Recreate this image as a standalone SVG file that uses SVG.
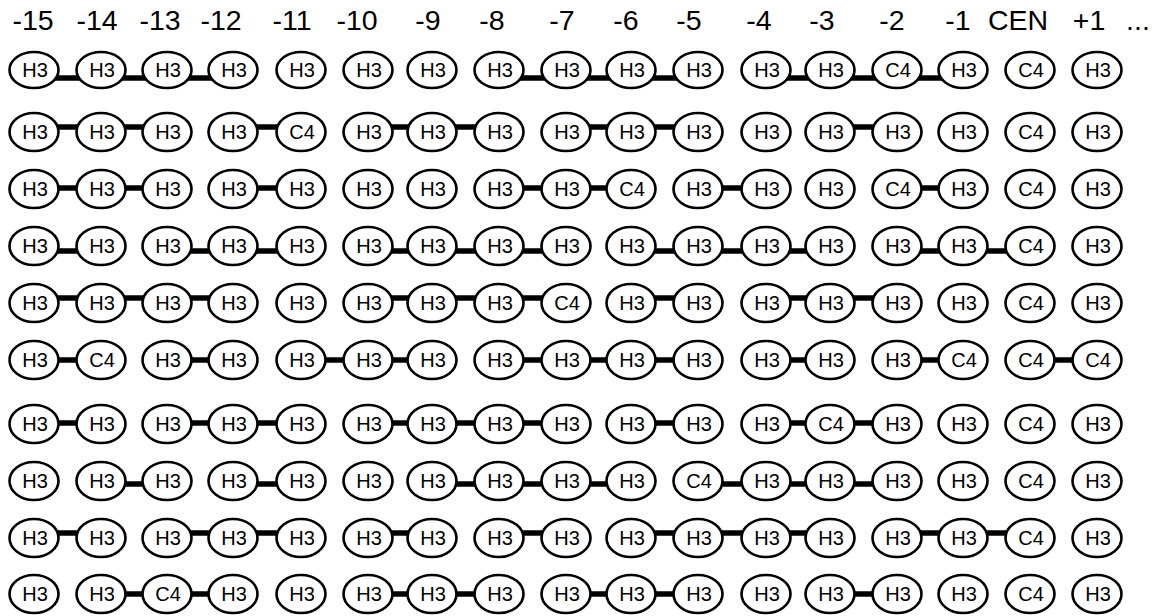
<svg xmlns="http://www.w3.org/2000/svg" width="1156" height="616" viewBox="0 0 1156 616">
<style>
text{font-family:"Liberation Sans",Arial,Helvetica,sans-serif;fill:#000;text-anchor:middle}
.hdr text{font-size:28.5px}
.n ellipse{fill:#fff;stroke:#000;stroke-width:2.6}
.n text{font-size:20px}
#links line{stroke:#000;stroke-width:5.5}
</style>
<rect width="1156" height="616" fill="#fff"/>
<g class="hdr" id="header">
<text x="33" y="30">-15</text><text x="97" y="30">-14</text><text x="160" y="30">-13</text><text x="221" y="30">-12</text><text x="292" y="30">-11</text><text x="357" y="30">-10</text><text x="428" y="30">-9</text><text x="492" y="30">-8</text><text x="562" y="30">-7</text><text x="626" y="30">-6</text><text x="689" y="30">-5</text><text x="759" y="30">-4</text><text x="822" y="30">-3</text><text x="892" y="30">-2</text><text x="958" y="30">-1</text><text x="1018" y="30">CEN</text><text x="1089" y="30">+1</text><text x="1138" y="30">...</text>
</g>
<g id="links">
<line x1="34" y1="78" x2="101" y2="78"/><line x1="101" y1="78" x2="167" y2="78"/><line x1="167" y1="78" x2="233" y2="78"/><line x1="499" y1="78" x2="566" y2="78"/><line x1="566" y1="78" x2="631" y2="78"/><line x1="631" y1="78" x2="698" y2="78"/><line x1="766" y1="78" x2="830" y2="78"/><line x1="830" y1="78" x2="897" y2="78"/><line x1="897" y1="78" x2="963" y2="78"/>
<line x1="34" y1="127" x2="101" y2="127"/><line x1="101" y1="127" x2="167" y2="127"/><line x1="233" y1="127" x2="301" y2="127"/><line x1="368" y1="127" x2="432" y2="127"/><line x1="432" y1="127" x2="499" y2="127"/><line x1="566" y1="127" x2="631" y2="127"/><line x1="631" y1="127" x2="698" y2="127"/><line x1="830" y1="127" x2="897" y2="127"/>
<line x1="34" y1="188" x2="101" y2="188"/><line x1="101" y1="188" x2="167" y2="188"/><line x1="233" y1="188" x2="301" y2="188"/><line x1="499" y1="188" x2="566" y2="188"/><line x1="566" y1="188" x2="631" y2="188"/><line x1="698" y1="188" x2="766" y2="188"/><line x1="897" y1="188" x2="963" y2="188"/>
<line x1="34" y1="251" x2="101" y2="251"/><line x1="167" y1="251" x2="233" y2="251"/><line x1="233" y1="251" x2="301" y2="251"/><line x1="368" y1="251" x2="432" y2="251"/><line x1="432" y1="251" x2="499" y2="251"/><line x1="499" y1="251" x2="566" y2="251"/><line x1="631" y1="251" x2="698" y2="251"/><line x1="698" y1="251" x2="766" y2="251"/><line x1="766" y1="251" x2="830" y2="251"/><line x1="897" y1="251" x2="963" y2="251"/><line x1="963" y1="251" x2="1030" y2="251"/>
<line x1="34" y1="298" x2="101" y2="298"/><line x1="101" y1="298" x2="167" y2="298"/><line x1="167" y1="298" x2="233" y2="298"/><line x1="368" y1="298" x2="432" y2="298"/><line x1="432" y1="298" x2="499" y2="298"/><line x1="499" y1="298" x2="566" y2="298"/><line x1="631" y1="298" x2="698" y2="298"/><line x1="766" y1="298" x2="830" y2="298"/><line x1="830" y1="298" x2="897" y2="298"/>
<line x1="34" y1="360" x2="101" y2="360"/><line x1="167" y1="360" x2="233" y2="360"/><line x1="301" y1="360" x2="368" y2="360"/><line x1="368" y1="360" x2="432" y2="360"/><line x1="499" y1="360" x2="566" y2="360"/><line x1="566" y1="360" x2="631" y2="360"/><line x1="631" y1="360" x2="698" y2="360"/><line x1="766" y1="360" x2="830" y2="360"/><line x1="897" y1="360" x2="963" y2="360"/><line x1="1030" y1="360" x2="1097" y2="360"/>
<line x1="34" y1="423" x2="101" y2="423"/><line x1="167" y1="423" x2="233" y2="423"/><line x1="233" y1="423" x2="301" y2="423"/><line x1="368" y1="423" x2="432" y2="423"/><line x1="432" y1="423" x2="499" y2="423"/><line x1="499" y1="423" x2="566" y2="423"/><line x1="631" y1="423" x2="698" y2="423"/><line x1="766" y1="423" x2="830" y2="423"/><line x1="830" y1="423" x2="897" y2="423"/>
<line x1="101" y1="484" x2="167" y2="484"/><line x1="233" y1="484" x2="301" y2="484"/><line x1="432" y1="484" x2="499" y2="484"/><line x1="499" y1="484" x2="566" y2="484"/><line x1="566" y1="484" x2="631" y2="484"/><line x1="698" y1="484" x2="766" y2="484"/><line x1="766" y1="484" x2="830" y2="484"/><line x1="830" y1="484" x2="897" y2="484"/>
<line x1="34" y1="533" x2="101" y2="533"/><line x1="167" y1="533" x2="233" y2="533"/><line x1="233" y1="533" x2="301" y2="533"/><line x1="368" y1="533" x2="432" y2="533"/><line x1="499" y1="533" x2="566" y2="533"/><line x1="631" y1="533" x2="698" y2="533"/><line x1="698" y1="533" x2="766" y2="533"/><line x1="766" y1="533" x2="830" y2="533"/><line x1="897" y1="533" x2="963" y2="533"/><line x1="963" y1="533" x2="1030" y2="533"/>
<line x1="101" y1="594" x2="167" y2="594"/><line x1="167" y1="594" x2="233" y2="594"/><line x1="368" y1="594" x2="432" y2="594"/><line x1="432" y1="594" x2="499" y2="594"/><line x1="566" y1="594" x2="631" y2="594"/><line x1="631" y1="594" x2="698" y2="594"/><line x1="830" y1="594" x2="897" y2="594"/>
</g>
<g id="nodes">
<g class="n" id="r1c1"><ellipse cx="34" cy="70" rx="24.5" ry="18"/><text x="35" y="77">H3</text></g>
<g class="n" id="r1c2"><ellipse cx="101" cy="70" rx="24.5" ry="18"/><text x="102" y="77">H3</text></g>
<g class="n" id="r1c3"><ellipse cx="167" cy="70" rx="24.5" ry="18"/><text x="168" y="77">H3</text></g>
<g class="n" id="r1c4"><ellipse cx="233" cy="70" rx="24.5" ry="18"/><text x="234" y="77">H3</text></g>
<g class="n" id="r1c5"><ellipse cx="301" cy="70" rx="24.5" ry="18"/><text x="302" y="77">H3</text></g>
<g class="n" id="r1c6"><ellipse cx="368" cy="70" rx="24.5" ry="18"/><text x="369" y="77">H3</text></g>
<g class="n" id="r1c7"><ellipse cx="432" cy="70" rx="24.5" ry="18"/><text x="433" y="77">H3</text></g>
<g class="n" id="r1c8"><ellipse cx="499" cy="70" rx="24.5" ry="18"/><text x="500" y="77">H3</text></g>
<g class="n" id="r1c9"><ellipse cx="566" cy="70" rx="24.5" ry="18"/><text x="567" y="77">H3</text></g>
<g class="n" id="r1c10"><ellipse cx="631" cy="70" rx="24.5" ry="18"/><text x="632" y="77">H3</text></g>
<g class="n" id="r1c11"><ellipse cx="698" cy="70" rx="24.5" ry="18"/><text x="699" y="77">H3</text></g>
<g class="n" id="r1c12"><ellipse cx="766" cy="70" rx="24.5" ry="18"/><text x="767" y="77">H3</text></g>
<g class="n" id="r1c13"><ellipse cx="830" cy="70" rx="24.5" ry="18"/><text x="831" y="77">H3</text></g>
<g class="n" id="r1c14"><ellipse cx="897" cy="70" rx="24.5" ry="18"/><text x="898" y="77">C4</text></g>
<g class="n" id="r1c15"><ellipse cx="963" cy="70" rx="24.5" ry="18"/><text x="964" y="77">H3</text></g>
<g class="n" id="r1c16"><ellipse cx="1030" cy="70" rx="24.5" ry="18"/><text x="1031" y="77">C4</text></g>
<g class="n" id="r1c17"><ellipse cx="1097" cy="70" rx="24.5" ry="18"/><text x="1098" y="77">H3</text></g>

<g class="n" id="r2c1"><ellipse cx="34" cy="132" rx="24.5" ry="19"/><text x="35" y="139">H3</text></g>
<g class="n" id="r2c2"><ellipse cx="101" cy="132" rx="24.5" ry="19"/><text x="102" y="139">H3</text></g>
<g class="n" id="r2c3"><ellipse cx="167" cy="132" rx="24.5" ry="19"/><text x="168" y="139">H3</text></g>
<g class="n" id="r2c4"><ellipse cx="233" cy="132" rx="24.5" ry="19"/><text x="234" y="139">H3</text></g>
<g class="n" id="r2c5"><ellipse cx="301" cy="132" rx="24.5" ry="19"/><text x="302" y="139">C4</text></g>
<g class="n" id="r2c6"><ellipse cx="368" cy="132" rx="24.5" ry="19"/><text x="369" y="139">H3</text></g>
<g class="n" id="r2c7"><ellipse cx="432" cy="132" rx="24.5" ry="19"/><text x="433" y="139">H3</text></g>
<g class="n" id="r2c8"><ellipse cx="499" cy="132" rx="24.5" ry="19"/><text x="500" y="139">H3</text></g>
<g class="n" id="r2c9"><ellipse cx="566" cy="132" rx="24.5" ry="19"/><text x="567" y="139">H3</text></g>
<g class="n" id="r2c10"><ellipse cx="631" cy="132" rx="24.5" ry="19"/><text x="632" y="139">H3</text></g>
<g class="n" id="r2c11"><ellipse cx="698" cy="132" rx="24.5" ry="19"/><text x="699" y="139">H3</text></g>
<g class="n" id="r2c12"><ellipse cx="766" cy="132" rx="24.5" ry="19"/><text x="767" y="139">H3</text></g>
<g class="n" id="r2c13"><ellipse cx="830" cy="132" rx="24.5" ry="19"/><text x="831" y="139">H3</text></g>
<g class="n" id="r2c14"><ellipse cx="897" cy="132" rx="24.5" ry="19"/><text x="898" y="139">H3</text></g>
<g class="n" id="r2c15"><ellipse cx="963" cy="132" rx="24.5" ry="19"/><text x="964" y="139">H3</text></g>
<g class="n" id="r2c16"><ellipse cx="1030" cy="132" rx="24.5" ry="19"/><text x="1031" y="139">C4</text></g>
<g class="n" id="r2c17"><ellipse cx="1097" cy="132" rx="24.5" ry="19"/><text x="1098" y="139">H3</text></g>

<g class="n" id="r3c1"><ellipse cx="34" cy="189" rx="24.5" ry="19"/><text x="35" y="196">H3</text></g>
<g class="n" id="r3c2"><ellipse cx="101" cy="189" rx="24.5" ry="19"/><text x="102" y="196">H3</text></g>
<g class="n" id="r3c3"><ellipse cx="167" cy="189" rx="24.5" ry="19"/><text x="168" y="196">H3</text></g>
<g class="n" id="r3c4"><ellipse cx="233" cy="189" rx="24.5" ry="19"/><text x="234" y="196">H3</text></g>
<g class="n" id="r3c5"><ellipse cx="301" cy="189" rx="24.5" ry="19"/><text x="302" y="196">H3</text></g>
<g class="n" id="r3c6"><ellipse cx="368" cy="189" rx="24.5" ry="19"/><text x="369" y="196">H3</text></g>
<g class="n" id="r3c7"><ellipse cx="432" cy="189" rx="24.5" ry="19"/><text x="433" y="196">H3</text></g>
<g class="n" id="r3c8"><ellipse cx="499" cy="189" rx="24.5" ry="19"/><text x="500" y="196">H3</text></g>
<g class="n" id="r3c9"><ellipse cx="566" cy="189" rx="24.5" ry="19"/><text x="567" y="196">H3</text></g>
<g class="n" id="r3c10"><ellipse cx="631" cy="189" rx="24.5" ry="19"/><text x="632" y="196">C4</text></g>
<g class="n" id="r3c11"><ellipse cx="698" cy="189" rx="24.5" ry="19"/><text x="699" y="196">H3</text></g>
<g class="n" id="r3c12"><ellipse cx="766" cy="189" rx="24.5" ry="19"/><text x="767" y="196">H3</text></g>
<g class="n" id="r3c13"><ellipse cx="830" cy="189" rx="24.5" ry="19"/><text x="831" y="196">H3</text></g>
<g class="n" id="r3c14"><ellipse cx="897" cy="189" rx="24.5" ry="19"/><text x="898" y="196">C4</text></g>
<g class="n" id="r3c15"><ellipse cx="963" cy="189" rx="24.5" ry="19"/><text x="964" y="196">H3</text></g>
<g class="n" id="r3c16"><ellipse cx="1030" cy="189" rx="24.5" ry="19"/><text x="1031" y="196">C4</text></g>
<g class="n" id="r3c17"><ellipse cx="1097" cy="189" rx="24.5" ry="19"/><text x="1098" y="196">H3</text></g>

<g class="n" id="r4c1"><ellipse cx="34" cy="246" rx="24.5" ry="19"/><text x="35" y="253">H3</text></g>
<g class="n" id="r4c2"><ellipse cx="101" cy="246" rx="24.5" ry="19"/><text x="102" y="253">H3</text></g>
<g class="n" id="r4c3"><ellipse cx="167" cy="246" rx="24.5" ry="19"/><text x="168" y="253">H3</text></g>
<g class="n" id="r4c4"><ellipse cx="233" cy="246" rx="24.5" ry="19"/><text x="234" y="253">H3</text></g>
<g class="n" id="r4c5"><ellipse cx="301" cy="246" rx="24.5" ry="19"/><text x="302" y="253">H3</text></g>
<g class="n" id="r4c6"><ellipse cx="368" cy="246" rx="24.5" ry="19"/><text x="369" y="253">H3</text></g>
<g class="n" id="r4c7"><ellipse cx="432" cy="246" rx="24.5" ry="19"/><text x="433" y="253">H3</text></g>
<g class="n" id="r4c8"><ellipse cx="499" cy="246" rx="24.5" ry="19"/><text x="500" y="253">H3</text></g>
<g class="n" id="r4c9"><ellipse cx="566" cy="246" rx="24.5" ry="19"/><text x="567" y="253">H3</text></g>
<g class="n" id="r4c10"><ellipse cx="631" cy="246" rx="24.5" ry="19"/><text x="632" y="253">H3</text></g>
<g class="n" id="r4c11"><ellipse cx="698" cy="246" rx="24.5" ry="19"/><text x="699" y="253">H3</text></g>
<g class="n" id="r4c12"><ellipse cx="766" cy="246" rx="24.5" ry="19"/><text x="767" y="253">H3</text></g>
<g class="n" id="r4c13"><ellipse cx="830" cy="246" rx="24.5" ry="19"/><text x="831" y="253">H3</text></g>
<g class="n" id="r4c14"><ellipse cx="897" cy="246" rx="24.5" ry="19"/><text x="898" y="253">H3</text></g>
<g class="n" id="r4c15"><ellipse cx="963" cy="246" rx="24.5" ry="19"/><text x="964" y="253">H3</text></g>
<g class="n" id="r4c16"><ellipse cx="1030" cy="246" rx="24.5" ry="19"/><text x="1031" y="253">C4</text></g>
<g class="n" id="r4c17"><ellipse cx="1097" cy="246" rx="24.5" ry="19"/><text x="1098" y="253">H3</text></g>

<g class="n" id="r5c1"><ellipse cx="34" cy="303" rx="24.5" ry="19"/><text x="35" y="310">H3</text></g>
<g class="n" id="r5c2"><ellipse cx="101" cy="303" rx="24.5" ry="19"/><text x="102" y="310">H3</text></g>
<g class="n" id="r5c3"><ellipse cx="167" cy="303" rx="24.5" ry="19"/><text x="168" y="310">H3</text></g>
<g class="n" id="r5c4"><ellipse cx="233" cy="303" rx="24.5" ry="19"/><text x="234" y="310">H3</text></g>
<g class="n" id="r5c5"><ellipse cx="301" cy="303" rx="24.5" ry="19"/><text x="302" y="310">H3</text></g>
<g class="n" id="r5c6"><ellipse cx="368" cy="303" rx="24.5" ry="19"/><text x="369" y="310">H3</text></g>
<g class="n" id="r5c7"><ellipse cx="432" cy="303" rx="24.5" ry="19"/><text x="433" y="310">H3</text></g>
<g class="n" id="r5c8"><ellipse cx="499" cy="303" rx="24.5" ry="19"/><text x="500" y="310">H3</text></g>
<g class="n" id="r5c9"><ellipse cx="566" cy="303" rx="24.5" ry="19"/><text x="567" y="310">C4</text></g>
<g class="n" id="r5c10"><ellipse cx="631" cy="303" rx="24.5" ry="19"/><text x="632" y="310">H3</text></g>
<g class="n" id="r5c11"><ellipse cx="698" cy="303" rx="24.5" ry="19"/><text x="699" y="310">H3</text></g>
<g class="n" id="r5c12"><ellipse cx="766" cy="303" rx="24.5" ry="19"/><text x="767" y="310">H3</text></g>
<g class="n" id="r5c13"><ellipse cx="830" cy="303" rx="24.5" ry="19"/><text x="831" y="310">H3</text></g>
<g class="n" id="r5c14"><ellipse cx="897" cy="303" rx="24.5" ry="19"/><text x="898" y="310">H3</text></g>
<g class="n" id="r5c15"><ellipse cx="963" cy="303" rx="24.5" ry="19"/><text x="964" y="310">H3</text></g>
<g class="n" id="r5c16"><ellipse cx="1030" cy="303" rx="24.5" ry="19"/><text x="1031" y="310">C4</text></g>
<g class="n" id="r5c17"><ellipse cx="1097" cy="303" rx="24.5" ry="19"/><text x="1098" y="310">H3</text></g>

<g class="n" id="r6c1"><ellipse cx="34" cy="360" rx="24.5" ry="19"/><text x="35" y="367">H3</text></g>
<g class="n" id="r6c2"><ellipse cx="101" cy="360" rx="24.5" ry="19"/><text x="102" y="367">C4</text></g>
<g class="n" id="r6c3"><ellipse cx="167" cy="360" rx="24.5" ry="19"/><text x="168" y="367">H3</text></g>
<g class="n" id="r6c4"><ellipse cx="233" cy="360" rx="24.5" ry="19"/><text x="234" y="367">H3</text></g>
<g class="n" id="r6c5"><ellipse cx="301" cy="360" rx="24.5" ry="19"/><text x="302" y="367">H3</text></g>
<g class="n" id="r6c6"><ellipse cx="368" cy="360" rx="24.5" ry="19"/><text x="369" y="367">H3</text></g>
<g class="n" id="r6c7"><ellipse cx="432" cy="360" rx="24.5" ry="19"/><text x="433" y="367">H3</text></g>
<g class="n" id="r6c8"><ellipse cx="499" cy="360" rx="24.5" ry="19"/><text x="500" y="367">H3</text></g>
<g class="n" id="r6c9"><ellipse cx="566" cy="360" rx="24.5" ry="19"/><text x="567" y="367">H3</text></g>
<g class="n" id="r6c10"><ellipse cx="631" cy="360" rx="24.5" ry="19"/><text x="632" y="367">H3</text></g>
<g class="n" id="r6c11"><ellipse cx="698" cy="360" rx="24.5" ry="19"/><text x="699" y="367">H3</text></g>
<g class="n" id="r6c12"><ellipse cx="766" cy="360" rx="24.5" ry="19"/><text x="767" y="367">H3</text></g>
<g class="n" id="r6c13"><ellipse cx="830" cy="360" rx="24.5" ry="19"/><text x="831" y="367">H3</text></g>
<g class="n" id="r6c14"><ellipse cx="897" cy="360" rx="24.5" ry="19"/><text x="898" y="367">H3</text></g>
<g class="n" id="r6c15"><ellipse cx="963" cy="360" rx="24.5" ry="19"/><text x="964" y="367">C4</text></g>
<g class="n" id="r6c16"><ellipse cx="1030" cy="360" rx="24.5" ry="19"/><text x="1031" y="367">C4</text></g>
<g class="n" id="r6c17"><ellipse cx="1097" cy="360" rx="24.5" ry="19"/><text x="1098" y="367">C4</text></g>

<g class="n" id="r7c1"><ellipse cx="34" cy="424" rx="24.5" ry="19"/><text x="35" y="431">H3</text></g>
<g class="n" id="r7c2"><ellipse cx="101" cy="424" rx="24.5" ry="19"/><text x="102" y="431">H3</text></g>
<g class="n" id="r7c3"><ellipse cx="167" cy="424" rx="24.5" ry="19"/><text x="168" y="431">H3</text></g>
<g class="n" id="r7c4"><ellipse cx="233" cy="424" rx="24.5" ry="19"/><text x="234" y="431">H3</text></g>
<g class="n" id="r7c5"><ellipse cx="301" cy="424" rx="24.5" ry="19"/><text x="302" y="431">H3</text></g>
<g class="n" id="r7c6"><ellipse cx="368" cy="424" rx="24.5" ry="19"/><text x="369" y="431">H3</text></g>
<g class="n" id="r7c7"><ellipse cx="432" cy="424" rx="24.5" ry="19"/><text x="433" y="431">H3</text></g>
<g class="n" id="r7c8"><ellipse cx="499" cy="424" rx="24.5" ry="19"/><text x="500" y="431">H3</text></g>
<g class="n" id="r7c9"><ellipse cx="566" cy="424" rx="24.5" ry="19"/><text x="567" y="431">H3</text></g>
<g class="n" id="r7c10"><ellipse cx="631" cy="424" rx="24.5" ry="19"/><text x="632" y="431">H3</text></g>
<g class="n" id="r7c11"><ellipse cx="698" cy="424" rx="24.5" ry="19"/><text x="699" y="431">H3</text></g>
<g class="n" id="r7c12"><ellipse cx="766" cy="424" rx="24.5" ry="19"/><text x="767" y="431">H3</text></g>
<g class="n" id="r7c13"><ellipse cx="830" cy="424" rx="24.5" ry="19"/><text x="831" y="431">C4</text></g>
<g class="n" id="r7c14"><ellipse cx="897" cy="424" rx="24.5" ry="19"/><text x="898" y="431">H3</text></g>
<g class="n" id="r7c15"><ellipse cx="963" cy="424" rx="24.5" ry="19"/><text x="964" y="431">H3</text></g>
<g class="n" id="r7c16"><ellipse cx="1030" cy="424" rx="24.5" ry="19"/><text x="1031" y="431">C4</text></g>
<g class="n" id="r7c17"><ellipse cx="1097" cy="424" rx="24.5" ry="19"/><text x="1098" y="431">H3</text></g>

<g class="n" id="r8c1"><ellipse cx="34" cy="481" rx="24.5" ry="19"/><text x="35" y="488">H3</text></g>
<g class="n" id="r8c2"><ellipse cx="101" cy="481" rx="24.5" ry="19"/><text x="102" y="488">H3</text></g>
<g class="n" id="r8c3"><ellipse cx="167" cy="481" rx="24.5" ry="19"/><text x="168" y="488">H3</text></g>
<g class="n" id="r8c4"><ellipse cx="233" cy="481" rx="24.5" ry="19"/><text x="234" y="488">H3</text></g>
<g class="n" id="r8c5"><ellipse cx="301" cy="481" rx="24.5" ry="19"/><text x="302" y="488">H3</text></g>
<g class="n" id="r8c6"><ellipse cx="368" cy="481" rx="24.5" ry="19"/><text x="369" y="488">H3</text></g>
<g class="n" id="r8c7"><ellipse cx="432" cy="481" rx="24.5" ry="19"/><text x="433" y="488">H3</text></g>
<g class="n" id="r8c8"><ellipse cx="499" cy="481" rx="24.5" ry="19"/><text x="500" y="488">H3</text></g>
<g class="n" id="r8c9"><ellipse cx="566" cy="481" rx="24.5" ry="19"/><text x="567" y="488">H3</text></g>
<g class="n" id="r8c10"><ellipse cx="631" cy="481" rx="24.5" ry="19"/><text x="632" y="488">H3</text></g>
<g class="n" id="r8c11"><ellipse cx="698" cy="481" rx="24.5" ry="19"/><text x="699" y="488">C4</text></g>
<g class="n" id="r8c12"><ellipse cx="766" cy="481" rx="24.5" ry="19"/><text x="767" y="488">H3</text></g>
<g class="n" id="r8c13"><ellipse cx="830" cy="481" rx="24.5" ry="19"/><text x="831" y="488">H3</text></g>
<g class="n" id="r8c14"><ellipse cx="897" cy="481" rx="24.5" ry="19"/><text x="898" y="488">H3</text></g>
<g class="n" id="r8c15"><ellipse cx="963" cy="481" rx="24.5" ry="19"/><text x="964" y="488">H3</text></g>
<g class="n" id="r8c16"><ellipse cx="1030" cy="481" rx="24.5" ry="19"/><text x="1031" y="488">C4</text></g>
<g class="n" id="r8c17"><ellipse cx="1097" cy="481" rx="24.5" ry="19"/><text x="1098" y="488">H3</text></g>

<g class="n" id="r9c1"><ellipse cx="34" cy="538" rx="24.5" ry="19"/><text x="35" y="545">H3</text></g>
<g class="n" id="r9c2"><ellipse cx="101" cy="538" rx="24.5" ry="19"/><text x="102" y="545">H3</text></g>
<g class="n" id="r9c3"><ellipse cx="167" cy="538" rx="24.5" ry="19"/><text x="168" y="545">H3</text></g>
<g class="n" id="r9c4"><ellipse cx="233" cy="538" rx="24.5" ry="19"/><text x="234" y="545">H3</text></g>
<g class="n" id="r9c5"><ellipse cx="301" cy="538" rx="24.5" ry="19"/><text x="302" y="545">H3</text></g>
<g class="n" id="r9c6"><ellipse cx="368" cy="538" rx="24.5" ry="19"/><text x="369" y="545">H3</text></g>
<g class="n" id="r9c7"><ellipse cx="432" cy="538" rx="24.5" ry="19"/><text x="433" y="545">H3</text></g>
<g class="n" id="r9c8"><ellipse cx="499" cy="538" rx="24.5" ry="19"/><text x="500" y="545">H3</text></g>
<g class="n" id="r9c9"><ellipse cx="566" cy="538" rx="24.5" ry="19"/><text x="567" y="545">H3</text></g>
<g class="n" id="r9c10"><ellipse cx="631" cy="538" rx="24.5" ry="19"/><text x="632" y="545">H3</text></g>
<g class="n" id="r9c11"><ellipse cx="698" cy="538" rx="24.5" ry="19"/><text x="699" y="545">H3</text></g>
<g class="n" id="r9c12"><ellipse cx="766" cy="538" rx="24.5" ry="19"/><text x="767" y="545">H3</text></g>
<g class="n" id="r9c13"><ellipse cx="830" cy="538" rx="24.5" ry="19"/><text x="831" y="545">H3</text></g>
<g class="n" id="r9c14"><ellipse cx="897" cy="538" rx="24.5" ry="19"/><text x="898" y="545">H3</text></g>
<g class="n" id="r9c15"><ellipse cx="963" cy="538" rx="24.5" ry="19"/><text x="964" y="545">H3</text></g>
<g class="n" id="r9c16"><ellipse cx="1030" cy="538" rx="24.5" ry="19"/><text x="1031" y="545">C4</text></g>
<g class="n" id="r9c17"><ellipse cx="1097" cy="538" rx="24.5" ry="19"/><text x="1098" y="545">H3</text></g>

<g class="n" id="r10c1"><ellipse cx="34" cy="594" rx="24.5" ry="19"/><text x="35" y="601">H3</text></g>
<g class="n" id="r10c2"><ellipse cx="101" cy="594" rx="24.5" ry="19"/><text x="102" y="601">H3</text></g>
<g class="n" id="r10c3"><ellipse cx="167" cy="594" rx="24.5" ry="19"/><text x="168" y="601">C4</text></g>
<g class="n" id="r10c4"><ellipse cx="233" cy="594" rx="24.5" ry="19"/><text x="234" y="601">H3</text></g>
<g class="n" id="r10c5"><ellipse cx="301" cy="594" rx="24.5" ry="19"/><text x="302" y="601">H3</text></g>
<g class="n" id="r10c6"><ellipse cx="368" cy="594" rx="24.5" ry="19"/><text x="369" y="601">H3</text></g>
<g class="n" id="r10c7"><ellipse cx="432" cy="594" rx="24.5" ry="19"/><text x="433" y="601">H3</text></g>
<g class="n" id="r10c8"><ellipse cx="499" cy="594" rx="24.5" ry="19"/><text x="500" y="601">H3</text></g>
<g class="n" id="r10c9"><ellipse cx="566" cy="594" rx="24.5" ry="19"/><text x="567" y="601">H3</text></g>
<g class="n" id="r10c10"><ellipse cx="631" cy="594" rx="24.5" ry="19"/><text x="632" y="601">H3</text></g>
<g class="n" id="r10c11"><ellipse cx="698" cy="594" rx="24.5" ry="19"/><text x="699" y="601">H3</text></g>
<g class="n" id="r10c12"><ellipse cx="766" cy="594" rx="24.5" ry="19"/><text x="767" y="601">H3</text></g>
<g class="n" id="r10c13"><ellipse cx="830" cy="594" rx="24.5" ry="19"/><text x="831" y="601">H3</text></g>
<g class="n" id="r10c14"><ellipse cx="897" cy="594" rx="24.5" ry="19"/><text x="898" y="601">H3</text></g>
<g class="n" id="r10c15"><ellipse cx="963" cy="594" rx="24.5" ry="19"/><text x="964" y="601">H3</text></g>
<g class="n" id="r10c16"><ellipse cx="1030" cy="594" rx="24.5" ry="19"/><text x="1031" y="601">C4</text></g>
<g class="n" id="r10c17"><ellipse cx="1097" cy="594" rx="24.5" ry="19"/><text x="1098" y="601">H3</text></g>
</g>
</svg>
